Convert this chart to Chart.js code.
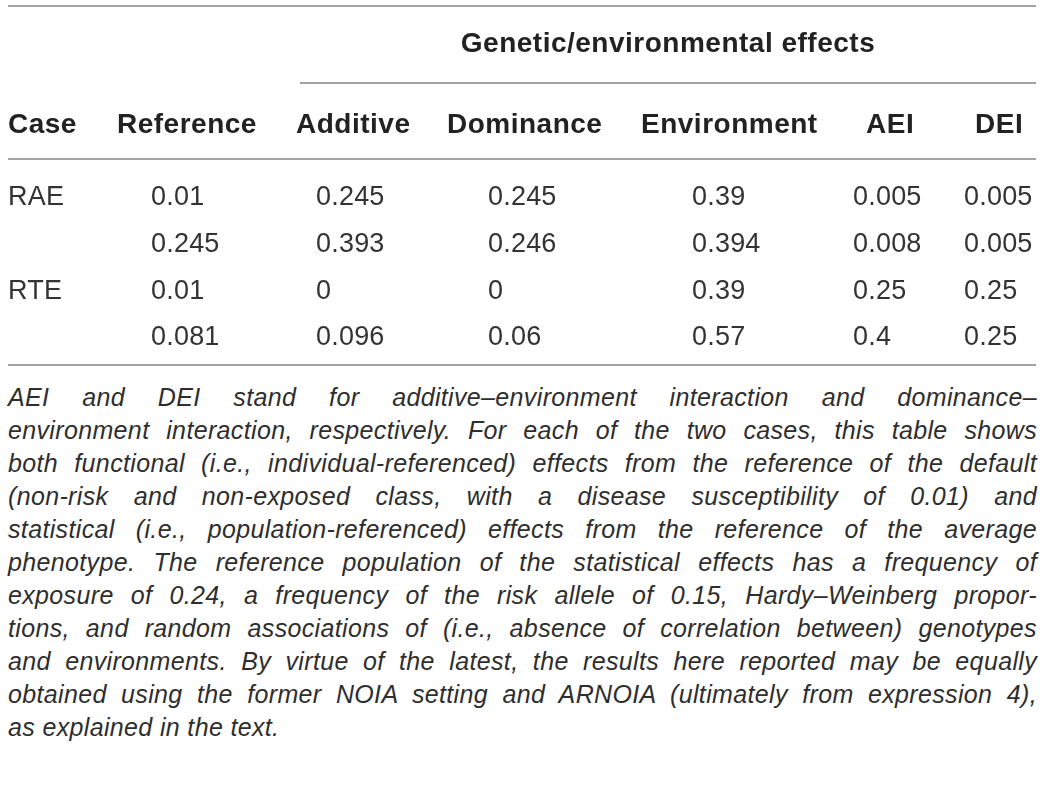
<!DOCTYPE html>
<html>
<head>
<meta charset="utf-8">
<script src="https://cdn.jsdelivr.net/npm/chart.js@4.4.0/dist/chart.umd.min.js"></script>
<style>
  body { margin: 0; background: #fff; }
  #caption {
    font-family: "Liberation Sans", Arial, sans-serif;
    font-style: italic;
    font-size: 25px;
    line-height: 33px;
    letter-spacing: 0.35px;
    color: #2e2e2e;
    margin: 0 8px;
    width: 1029px;
  }
  #caption div { white-space: nowrap; }
  #caption span { display: inline-block; }
</style>
</head>
<body>
<canvas id="table" width="1045" height="381"></canvas>
<div id="caption"></div>
<script>
// table content
const groupTitle = 'Genetic/environmental effects';
const columns = ['Case', 'Reference', 'Additive', 'Dominance', 'Environment', 'AEI', 'DEI'];
const caseLabels = ['RAE', '', 'RTE', ''];
const reference = [0.01, 0.245, 0.01, 0.081];
const additive = [0.245, 0.393, 0, 0.096];
const dominance = [0.245, 0.246, 0, 0.06];
const environment = [0.39, 0.394, 0.39, 0.57];
const aei = [0.005, 0.008, 0.25, 0.4];
const dei = [0.005, 0.005, 0.25, 0.25];

const captionLines = [
  'AEI and DEI stand for additive\u2013environment interaction and dominance\u2013',
  'environment interaction, respectively. For each of the two cases, this table shows',
  'both functional (i.e., individual-referenced) effects from the reference of the default',
  '(non-risk and non-exposed class, with a disease susceptibility of 0.01) and',
  'statistical (i.e., population-referenced) effects from the reference of the average',
  'phenotype. The reference population of the statistical effects has a frequency of',
  'exposure of 0.24, a frequency of the risk allele of 0.15, Hardy\u2013Weinberg propor-',
  'tions, and random associations of (i.e., absence of correlation between) genotypes',
  'and environments. By virtue of the latest, the results here reported may be equally',
  'obtained using the former NOIA setting and ARNOIA (ultimately from expression 4),',
  'as explained in the text.'
];

// layout (scale units = pixels of the table area)
const headLeft = [8, 117, 296, 447, 641, 866, 975];
const cellLeft = [8, 151, 316, 488, 692, 853, 964];
const rowBase = [205, 252, 298.5, 345];
const headBase = 133;
const groupBase = 52;
const ruleColor = '#a3a3a3';
const headColor = '#222';
const cellColor = '#333';
const fontFamily = '"Liberation Sans", Arial, sans-serif';

const columnValues = [caseLabels, reference, additive, dominance, environment, aei, dei];

const cellSets = columnValues.map((vals, c) => ({
  type: 'scatter',
  label: columns[c],
  texts: vals.map(v => String(v)),
  data: vals.map((v, r) => ({ x: cellLeft[c], y: rowBase[r] })),
  pointRadius: 0,
  showLine: false
}));

const rule = (x0, x1, y) => ({
  type: 'line',
  data: [{ x: x0, y: y }, { x: x1, y: y }],
  borderColor: ruleColor,
  borderWidth: 2,
  pointRadius: 0,
  isRule: true
});

const rules = [rule(8, 1036, 6), rule(300, 1036, 83), rule(8, 1036, 159), rule(8, 1036, 365)];

const tableText = {
  id: 'tableText',
  afterDatasetsDraw(chart) {
    const { ctx, scales: { x, y } } = chart;
    ctx.save();
    ctx.textBaseline = 'alphabetic';

    // spanning header, centred over its rule
    ctx.fillStyle = headColor;
    ctx.font = 'bold 28px ' + fontFamily;
    ctx.letterSpacing = '0.5px';
    ctx.textAlign = 'center';
    ctx.fillText(groupTitle, (x.getPixelForValue(300) + x.getPixelForValue(1036)) / 2, y.getPixelForValue(groupBase));

    // column headers
    ctx.textAlign = 'left';
    columns.forEach((name, c) => {
      ctx.fillText(name, x.getPixelForValue(headLeft[c]), y.getPixelForValue(headBase));
    });

    // cells, at the positions of the dataset elements
    ctx.fillStyle = cellColor;
    ctx.font = '27px ' + fontFamily;
    ctx.letterSpacing = '0.2px';
    chart.data.datasets.forEach((ds, i) => {
      if (ds.isRule) return;
      chart.getDatasetMeta(i).data.forEach((pt, j) => {
        ctx.fillText(ds.texts[j], pt.x, pt.y);
      });
    });
    ctx.restore();
  }
};

new Chart(document.getElementById('table'), {
  type: 'scatter',
  data: { datasets: cellSets.concat(rules) },
  options: {
    responsive: false,
    animation: false,
    events: [],
    layout: { padding: 0 },
    scales: {
      x: { type: 'linear', min: 0, max: 1045, display: false },
      y: { type: 'linear', min: 0, max: 381, reverse: true, display: false }
    },
    plugins: { legend: { display: false }, tooltip: { enabled: false } }
  },
  plugins: [tableText]
});

// caption, each line justified to the full width
const cap = document.getElementById('caption');
captionLines.forEach((line, i) => {
  const d = document.createElement('div');
  const s = document.createElement('span');
  s.textContent = line;
  d.appendChild(s);
  cap.appendChild(d);
  if (i < captionLines.length - 1) {
    const spaces = (line.match(/ /g) || []).length;
    const extra = (1029 - s.getBoundingClientRect().width) / spaces;
    s.style.wordSpacing = extra.toFixed(2) + 'px';
  }
});
</script>
</body>
</html>
